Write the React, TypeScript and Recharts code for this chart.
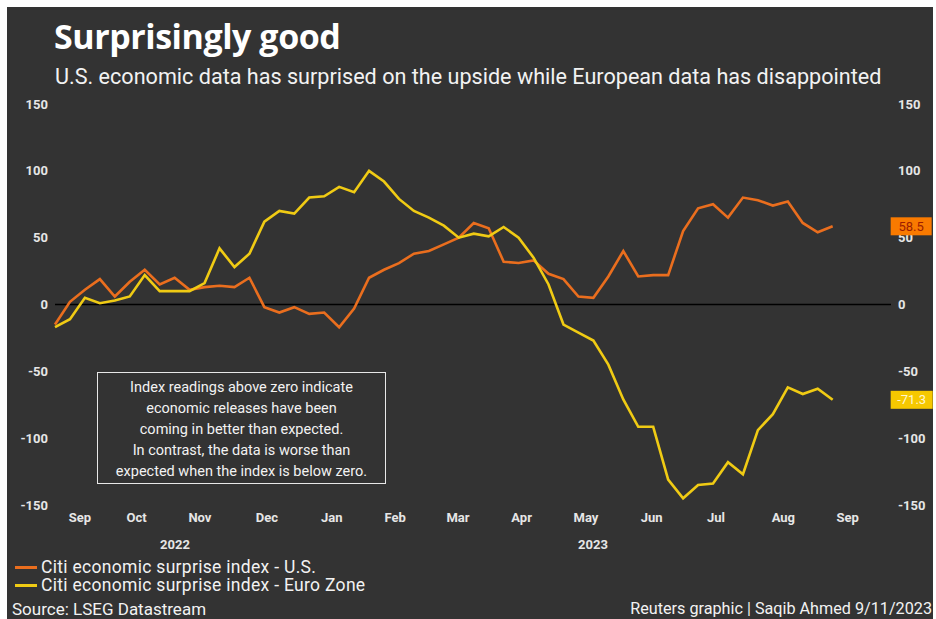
import { LineChart, Line, XAxis, YAxis, ReferenceLine } from 'recharts';

// weekly readings, Sep 2022 -> Sep 2023
const usSurprise = [
  -15, 2, 11, 19, 6, 17, 26, 15, 20, 11,
  13, 14, 13, 20, -2, -6, -2, -7, -6, -17,
  -3, 20, 26, 31, 38, 40, 45, 50, 61, 57,
  32, 31, 33, 23, 19, 6, 5, 21, 40, 21,
  22, 22, 55, 72, 75, 65, 80, 78, 74, 77,
  61, 54, 58.5,
];

const euroSurprise = [
  -17, -11, 5, 1, 3, 6, 22, 10, 10, 10,
  16, 42, 28, 38, 62, 70, 68, 80, 81, 88,
  84, 100, 92, 79, 70, 65, 59, 50, 53, 51,
  58, 50, 35, 15, -15, -21, -27, -45, -71, -91.5,
  -91.5, -131, -145, -135, -134, -118, -127, -94, -82, -62,
  -67, -63, -71.3,
];

const monthLabels = ['Sep', 'Oct', 'Nov', 'Dec', 'Jan', 'Feb', 'Mar', 'Apr', 'May', 'Jun', 'Jul', 'Aug', 'Sep'];
// label positions in weeks from the first reading
const monthTicks = [1.67, 5.46, 9.69, 14.17, 18.5, 22.74, 26.95, 31.2, 35.5, 39.9, 44.2, 48.7, 53.0];
const yTicks = [-150, -100, -50, 0, 50, 100, 150];

const US_COLOR = '#ea6e1e';
const EURO_COLOR = '#f0cb14';
const BG = '#333333';
const TEXT = '#e6e6e6';

const data = usSurprise.map((us, i) => ({ week: i, us, euro: euroSurprise[i] }));
const lastIdx = data.length - 1;

function EndLabel(props: any) {
  const { x, y, index, value, boxColor, textColor, boxW } = props;
  if (index !== lastIdx || x == null || y == null) return null;
  const left = x + 58;
  return (
    <g>
      <rect x={left} y={y - 9} width={boxW} height={18} fill={boxColor} />
      <text
        x={left + boxW / 2}
        y={y + 4.5}
        textAnchor="middle"
        fontSize={13}
        fontFamily="Roboto, sans-serif"
        fill={textColor}
      >
        {value}
      </text>
    </g>
  );
}

export default function App() {
  const tickStyle = { fill: TEXT, fontSize: 13, fontWeight: 700, fontFamily: 'Roboto, sans-serif' };

  return (
    <div
      style={{
        position: 'absolute',
        left: 0,
        top: 0,
        width: 936,
        height: 619,
        background: '#fff',
        overflow: 'hidden',
        fontFamily: 'Roboto, sans-serif',
      }}
    >
      <div style={{ position: 'absolute', left: 7, top: 7, width: 926, height: 612, background: BG }} />

      <div
        style={{
          position: 'absolute',
          left: 54,
          top: 15,
          color: '#fff',
          fontSize: 34,
          fontWeight: 700,
          lineHeight: '42px',
          fontFamily: '"Open Sans", sans-serif',
          letterSpacing: -0.45,
        }}
      >
        Surprisingly good
      </div>
      <div
        style={{ position: 'absolute', left: 55, top: 63, color: '#f2f2f2', fontSize: 21.6, lineHeight: '27px' }}
      >
        U.S. economic data has surprised on the upside while European data has disappointed
      </div>

      <div style={{ position: 'absolute', left: 0, top: 0 }}>
        <LineChart width={936} height={540} data={data} margin={{ top: 104, right: 0, bottom: 5, left: 0 }}>
          <XAxis
            dataKey="week"
            type="number"
            domain={[0, 55.9]}
            ticks={monthTicks}
            tickFormatter={(v: number) => monthLabels[monthTicks.indexOf(v)] ?? ''}
            axisLine={false}
            tickLine={false}
            tickSize={0}
            tickMargin={8}
            height={30}
            interval={0}
            tick={tickStyle}
          />
          <YAxis
            yAxisId="left"
            domain={[-150, 150]}
            ticks={yTicks}
            width={55}
            axisLine={false}
            tickLine={false}
            tickSize={0}
            tickMargin={7}
            interval={0}
            tick={tickStyle}
          />
          <YAxis
            yAxisId="right"
            orientation="right"
            domain={[-150, 150]}
            ticks={yTicks}
            width={45}
            axisLine={false}
            tickLine={false}
            tickSize={0}
            tickMargin={7}
            interval={0}
            tick={tickStyle}
          />
          <ReferenceLine yAxisId="left" y={0} stroke="#000" strokeWidth={1.3} />
          {/* invisible copy so the right-hand axis gets drawn */}
          <Line
            yAxisId="right"
            dataKey="euro"
            stroke="transparent"
            dot={false}
            activeDot={false}
            legendType="none"
            isAnimationActive={false}
          />
          <Line
            yAxisId="left"
            dataKey="us"
            stroke={US_COLOR}
            strokeWidth={2.6}
            dot={false}
            isAnimationActive={false}
            label={<EndLabel boxColor="#f97a00" textColor="#9c1e00" boxW={41} />}
          />
          <Line
            yAxisId="left"
            dataKey="euro"
            stroke={EURO_COLOR}
            strokeWidth={2.6}
            dot={false}
            isAnimationActive={false}
            label={<EndLabel boxColor="#f6c800" textColor="#fff6d0" boxW={42} />}
          />
        </LineChart>
      </div>

      <div
        style={{
          position: 'absolute',
          left: 97,
          top: 372,
          width: 289,
          height: 112,
          border: '1px solid #e8e8e8',
          background: BG,
          color: '#f2f2f2',
          fontSize: 14.5,
          lineHeight: '21px',
          textAlign: 'center',
          paddingTop: 4,
          boxSizing: 'border-box',
        }}
      >
        Index readings above zero indicate
        <br />
        economic releases have been
        <br />
        coming in better than expected.
        <br />
        In contrast, the data is worse than
        <br />
        expected when the index is below zero.
      </div>

      <div style={{ position: 'absolute', left: 160, top: 537, color: TEXT, fontSize: 13, fontWeight: 700 }}>2022</div>
      <div style={{ position: 'absolute', left: 578, top: 537, color: TEXT, fontSize: 13, fontWeight: 700 }}>2023</div>

      <div
        style={{
          position: 'absolute',
          left: 15,
          top: 558,
          color: '#f2f2f2',
          fontSize: 17.5,
          lineHeight: '18px',
          letterSpacing: 0.3,
        }}
      >
        <div style={{ display: 'flex', alignItems: 'center', height: 18 }}>
          <span style={{ display: 'inline-block', width: 22, height: 3, background: US_COLOR, marginRight: 4 }} />
          Citi economic surprise index - U.S.
        </div>
        <div style={{ display: 'flex', alignItems: 'center', height: 18 }}>
          <span style={{ display: 'inline-block', width: 22, height: 3, background: EURO_COLOR, marginRight: 4 }} />
          Citi economic surprise index - Euro Zone
        </div>
      </div>

      <div style={{ position: 'absolute', left: 12, top: 600, color: '#f2f2f2', fontSize: 17, lineHeight: '19px' }}>
        Source: LSEG Datastream
      </div>
      <div
        style={{
          position: 'absolute',
          right: 4,
          top: 599,
          color: '#f2f2f2',
          fontSize: 16.2,
          lineHeight: '19px',
        }}
      >
        Reuters graphic | Saqib Ahmed 9/11/2023
      </div>
    </div>
  );
}
